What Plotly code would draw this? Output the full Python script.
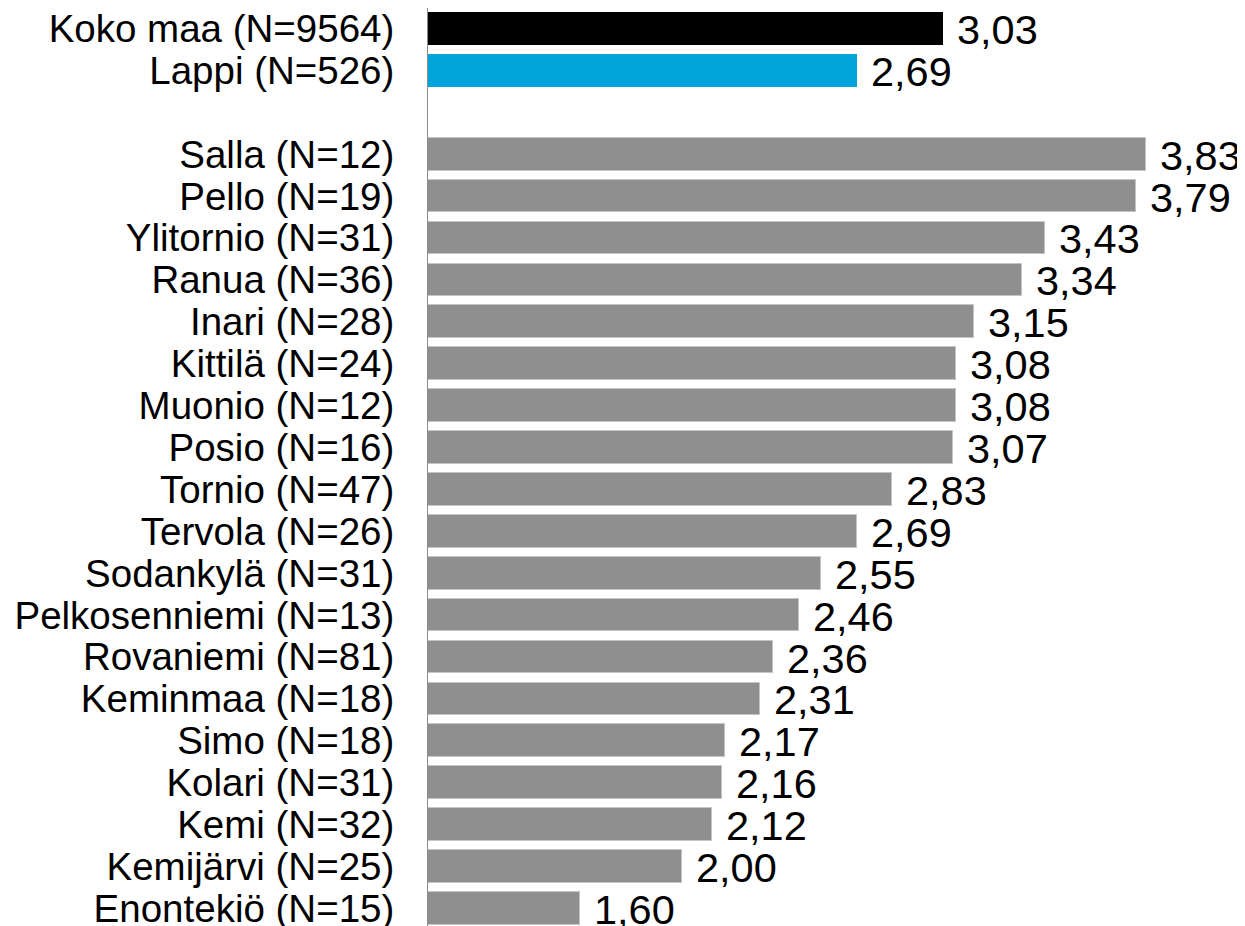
import plotly.graph_objects as go

# Data
top_names = ["Koko maa (N=9564)", "Lappi (N=526)"]
top_values = [3.03, 2.69]
top_colors = ["#000000", "#00A3DA"]

muni_names = ["Salla (N=12)", "Pello (N=19)", "Ylitornio (N=31)", "Ranua (N=36)",
              "Inari (N=28)", "Kittilä (N=24)", "Muonio (N=12)", "Posio (N=16)",
              "Tornio (N=47)", "Tervola (N=26)", "Sodankylä (N=31)",
              "Pelkosenniemi (N=13)", "Rovaniemi (N=81)", "Keminmaa (N=18)",
              "Simo (N=18)", "Kolari (N=31)", "Kemi (N=32)", "Kemijärvi (N=25)",
              "Enontekiö (N=15)"]
muni_values = [3.83, 3.79, 3.43, 3.34, 3.15, 3.08, 3.08, 3.07, 2.83, 2.69, 2.55,
               2.46, 2.36, 2.31, 2.17, 2.16, 2.12, 2.00, 1.60]
muni_color = "#8F8F8F"

top_pos = list(range(len(top_names)))
muni_pos = [len(top_names) + 1 + i for i in range(len(muni_names))]

FONT = "Liberation Sans, Arial, sans-serif"
LABEL_FS = 38.5
VALUE_FS = 41.5

fig = go.Figure()
fig.add_trace(go.Bar(
    y=top_pos, x=top_values, orientation="h",
    marker=dict(color=top_colors, line=dict(width=0)),
    width=0.78, hoverinfo="skip"))
fig.add_trace(go.Bar(
    y=muni_pos, x=muni_values, orientation="h",
    marker=dict(color=muni_color, line=dict(width=1, color="#C4C4C4")),
    width=0.78, hoverinfo="skip"))

annotations = []
for p, v in zip(top_pos + muni_pos, top_values + muni_values):
    annotations.append(dict(
        x=v, y=p, xref="x", yref="y", text=f"{v:.2f}".replace(".", ","),
        showarrow=False, xanchor="left", yanchor="middle", xshift=12, yshift=-1,
        font=dict(family=FONT, size=VALUE_FS, color="#000000")))

fig.update_layout(
    width=1237, height=918,
    margin=dict(l=420, r=0, t=0, b=0, autoexpand=False),
    paper_bgcolor="white", plot_bgcolor="white",
    showlegend=False, bargap=0,
    annotations=annotations,
    font=dict(family=FONT, size=LABEL_FS, color="#000000"),
)
fig.update_xaxes(range=[1.0, 4.219], visible=False, showgrid=False, zeroline=False,
                 automargin=False)
fig.update_yaxes(
    range=[21.42, -0.489], tickvals=top_pos + muni_pos, ticktext=top_names + muni_names,
    showgrid=False, zeroline=False, showline=True, linecolor="#8C8C8C", linewidth=1,
    ticks="", ticklabelstandoff=25, ticklabeloverflow="allow", automargin=False,
    tickfont=dict(family=FONT, size=LABEL_FS, color="#000000"))

fig.write_html("out.html")
